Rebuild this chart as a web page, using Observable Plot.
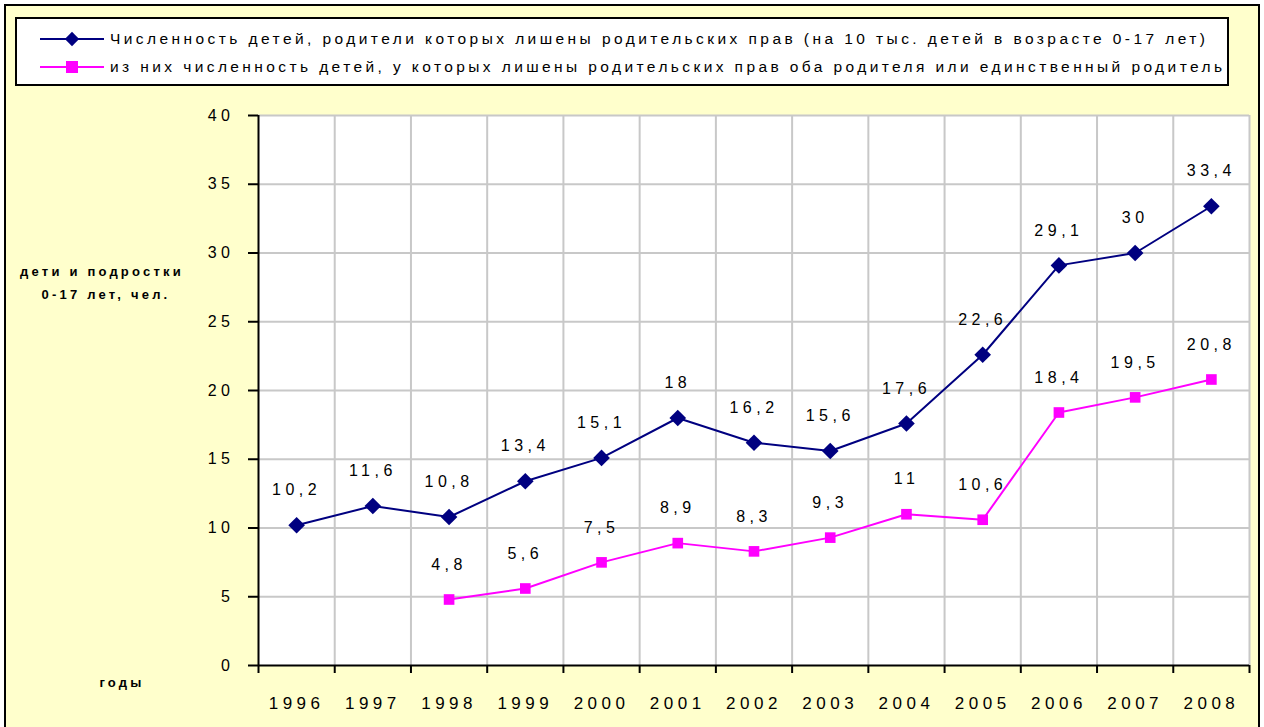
<!DOCTYPE html>
<html>
<head>
<meta charset="utf-8">
<script src="https://cdn.jsdelivr.net/npm/d3@7"></script>
<script src="https://cdn.jsdelivr.net/npm/@observablehq/plot@0.6"></script>
<style>
  body { margin: 0; background: #ffffff; font-family: "Liberation Sans", Arial, sans-serif; }
  #wrap { position: relative; width: 1264px; height: 727px; overflow: hidden; }
  #bg { position: absolute; left: 4px; top: 4px; width: 1252px; height: 760px; background: #ffffcc; border: 2px solid #000; }
  #chart { position: absolute; left: 0; top: 0; }
  #chart svg text { letter-spacing: 4.5px; }
  .ttl { position: absolute; font-weight: bold; font-size: 13px; letter-spacing: 3.2px; color: #000; text-align: center; white-space: nowrap; }
  #legend { position: absolute; left: 0; top: 0; }
</style>
</head>
<body>
<div id="wrap">
  <div id="bg"></div>
  <div id="chart"></div>
  <svg id="legend" width="1264" height="100"></svg>
  <div class="ttl" style="left:2px;top:264px;width:200px;">дети и подростки</div>
  <div class="ttl" style="left:6px;top:287px;width:200px;">0-17 лет, чел.</div>
  <div class="ttl" style="left:72px;top:675px;width:100px;">годы</div>
</div>
<script>
const years = [1996, 1997, 1998, 1999, 2000, 2001, 2002, 2003, 2004, 2005, 2006, 2007, 2008];
const totalValues = [10.2, 11.6, 10.8, 13.4, 15.1, 18, 16.2, 15.6, 17.6, 22.6, 29.1, 30, 33.4];
const bothYears = [1998, 1999, 2000, 2001, 2002, 2003, 2004, 2005, 2006, 2007, 2008];
const bothValues = [4.8, 5.6, 7.5, 8.9, 8.3, 9.3, 11, 10.6, 18.4, 19.5, 20.8];
const yTicks = [0, 5, 10, 15, 20, 25, 30, 35, 40];
const seriesNames = [
  "Численность детей, родители которых лишены родительских прав (на 10 тыс. детей в возрасте 0-17 лет)",
  "из них численность детей, у которых лишены родительских прав оба родителя или единственный родитель"
];
const colors = ["#000080", "#ff00ff"];

const total = years.map((y, i) => ({year: y, value: totalValues[i]}));
const both = bothYears.map((y, i) => ({year: y, value: bothValues[i]}));
const bounds = years.map(y => y - 0.5).concat([years[years.length - 1] + 0.5]);
const fmt = v => String(v).replace(".", ",");

const chart = Plot.plot({
  width: 1264,
  height: 727,
  marginLeft: 258,
  marginRight: 15,
  marginTop: 115,
  marginBottom: 62,
  style: {background: "transparent", fontFamily: "'Liberation Sans', Arial, sans-serif", fontSize: "16px", color: "#000"},
  x: {type: "linear", domain: [bounds[0], bounds[bounds.length - 1]], label: null},
  y: {domain: [0, 40], label: null},
  marks: [
    Plot.frame({fill: "white", stroke: null}),
    Plot.gridY(yTicks.slice(1), {stroke: "#c8c8c8", strokeOpacity: 1, strokeWidth: 2}),
    Plot.ruleX(bounds.slice(1), {stroke: "#c8c8c8", strokeWidth: 2}),
    Plot.ruleX([bounds[0]], {stroke: "#000", strokeWidth: 2}),
    Plot.ruleY([0], {stroke: "#000", strokeWidth: 2}),
    Plot.axisY(yTicks, {label: null, tickSize: 10, tickPadding: 14, strokeWidth: 2, fontSize: 16, tickFormat: d => String(d)}),
    Plot.axisX(bounds, {label: null, tickSize: 8, strokeWidth: 2, tickFormat: () => ""}),
    Plot.axisX(years, {label: null, tickSize: 0, tickPadding: 31, fontSize: 17, tickFormat: d => String(d)}),
    Plot.line(total, {x: "year", y: "value", stroke: colors[0], strokeWidth: 2}),
    Plot.line(both, {x: "year", y: "value", stroke: colors[1], strokeWidth: 2}),
    Plot.dot(total, {x: "year", y: "value", symbol: "diamond2", r: 7.5, fill: colors[0], stroke: null}),
    Plot.dot(both, {x: "year", y: "value", symbol: "square", r: 6, fill: colors[1], stroke: null}),
    Plot.text(total, {x: "year", y: "value", text: d => fmt(d.value), dy: -35, fontSize: 16, fill: "#000"}),
    Plot.text(both, {x: "year", y: "value", text: d => fmt(d.value), dy: -35, fontSize: 16, fill: "#000"})
  ]
});
document.getElementById("chart").appendChild(chart);

// Legend
const lg = d3.select("#legend");
lg.append("rect").attr("x", 16).attr("y", 18).attr("width", 1212).attr("height", 67)
  .attr("fill", "#fff").attr("stroke", "#000").attr("stroke-width", 2);
const rows = [39, 67];
const ends = [1205, 1222];
rows.forEach((ry, i) => {
  lg.append("line").attr("x1", 40).attr("x2", 104).attr("y1", ry).attr("y2", ry)
    .attr("stroke", colors[i]).attr("stroke-width", 2);
  if (i === 0) {
    lg.append("path").attr("d", d3.symbol(d3.symbolDiamond2, 130)()).attr("transform", `translate(72,${ry})`).attr("fill", colors[i]);
  } else {
    lg.append("rect").attr("x", 66).attr("y", ry - 6).attr("width", 12).attr("height", 12).attr("fill", colors[i]);
  }
  lg.append("text").attr("x", 110).attr("y", ry).attr("dy", "0.35em")
    .attr("font-family", "'Liberation Sans', Arial, sans-serif").attr("font-size", 15.5)
    .attr("textLength", ends[i] - 110).attr("lengthAdjust", "spacing")
    .attr("fill", "#000").text(seriesNames[i]);
});
</script>
</body>
</html>
